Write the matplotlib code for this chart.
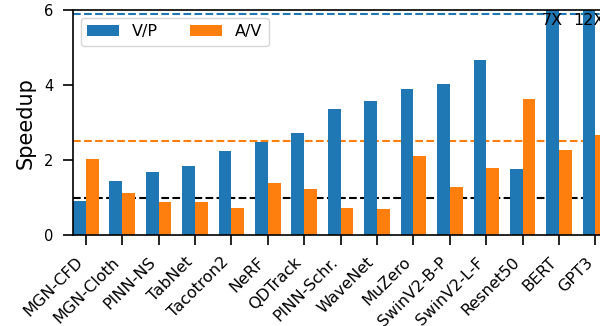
import matplotlib
matplotlib.use("Agg")
import matplotlib.pyplot as plt
import numpy as np

models = ["MGN-CFD", "MGN-Cloth", "PINN-NS", "TabNet", "Tacotron2", "NeRF",
          "QDTrack", "PINN-Schr.", "WaveNet", "MuZero", "SwinV2-B-P",
          "SwinV2-L-F", "Resnet50", "BERT", "GPT3"]
vp = [0.91, 1.44, 1.68, 1.84, 2.24, 2.48, 2.72, 3.36, 3.57, 3.89, 4.03,
      4.67, 1.76, 7.0, 12.0]
av = [2.03, 1.12, 0.88, 0.88, 0.72, 1.39, 1.23, 0.72, 0.69, 2.11, 1.28,
      1.79, 3.63, 2.27, 2.67]
vp_mean = 5.89
av_mean = 2.50
baseline = 1.0
y_max = 6
y_ticks = [0, 2, 4, 6]

blue = "#1f77b4"
orange = "#ff7f0e"
width = 0.35

fig = plt.figure(figsize=(6.0, 3.26), dpi=100)
ax = fig.add_axes([0.1217, 0.279, 0.892, 0.690])

x = np.arange(len(models))
ax.axhline(vp_mean, color=blue, ls="--", lw=1.5, zorder=1)
ax.axhline(av_mean, color=orange, ls="--", lw=1.5, zorder=1)
ax.axhline(baseline, color="black", ls="--", lw=1.5, zorder=1)

ax.bar(x - width / 2, vp, width, color=blue, label="V/P", zorder=2)
ax.bar(x + width / 2, av, width, color=orange, label="A/V", zorder=2)

# bars that run past the top of the axis get their value written on them
for xi, v in zip(x, vp):
    if v > y_max:
        ax.text(xi - width / 2, 5.73, f"{v:g}X", ha="center", va="center",
                fontsize=11.5, color="black", zorder=3)

ax.set_xlim(-width, len(models) - 1 + width)
ax.set_ylim(0, y_max)
ax.set_yticks(y_ticks)
ax.set_xticks(x)
ax.set_xticklabels(models, rotation=45, ha="right", fontsize=11.5)
ax.tick_params(axis="both", length=7, width=1.2, pad=7)
ax.tick_params(axis="y", labelsize=10.5)
for s in ax.spines.values():
    s.set_linewidth(1.2)
ax.set_ylabel("Speedup", fontsize=15, labelpad=6)

ax.legend(loc="upper left", ncol=2, fontsize=11.5, handlelength=2.0,
          columnspacing=2.0)

fig.savefig("out.png", dpi=100)
